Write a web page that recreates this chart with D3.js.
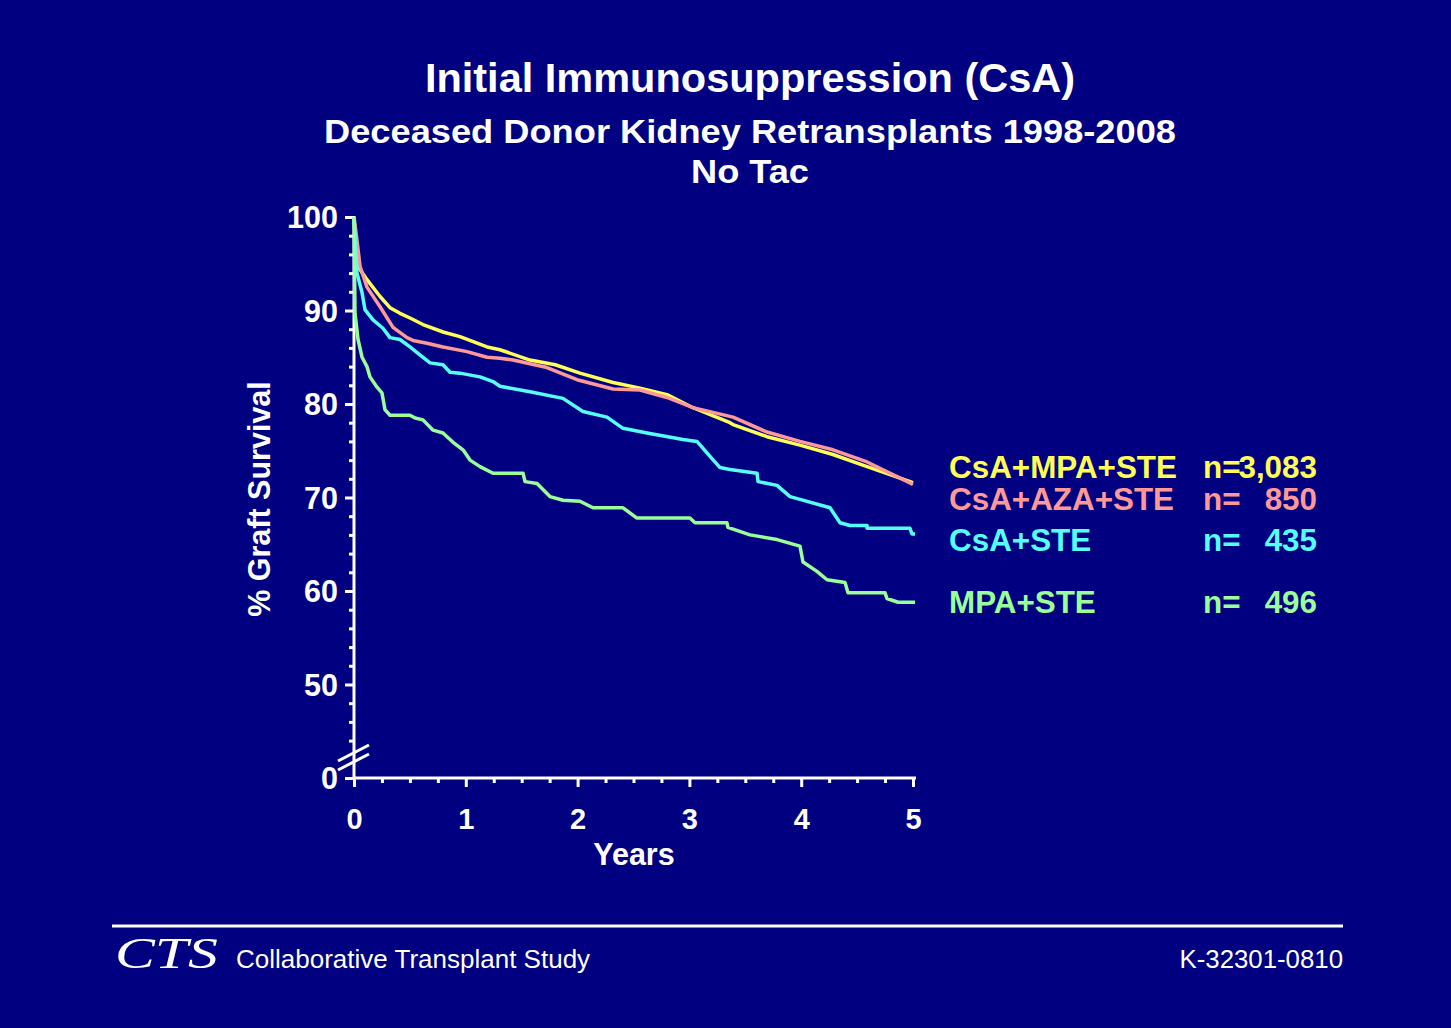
<!DOCTYPE html>
<html><head><meta charset="utf-8">
<script src="https://cdn.jsdelivr.net/npm/d3@7"></script>
<style>html,body{margin:0;padding:0;background:#000080;} svg{display:block;}</style>
</head><body>
<svg id="chart" width="1451" height="1028"></svg>
<script>
// ---------- data ----------
const categories = ["CsA+MPA+STE", "CsA+AZA+STE", "CsA+STE", "MPA+STE"];
const nLabels = ["3,083", "850", "435", "496"];
const colors = ["#ffff55", "#ff9999", "#55ffff", "#99ff99"];

const csaMpaSte = [[0,100],[0.018,96.8],[0.036,94.7],[0.116,93.3],[0.233,91.5],[0.322,90.3],[0.411,89.7],[0.501,89.2],[0.617,88.5],[0.796,87.7],[0.948,87.2],[1.19,86.1],[1.306,85.8],[1.574,84.7],[1.8,84.2],[2.021,83.3],[2.317,82.3],[2.558,81.7],[2.8,81.0],[3.032,79.6],[3.363,78.0],[3.39,77.8],[3.694,76.5],[3.989,75.6],[4.284,74.6],[4.589,73.3],[5.0,71.6]];
const csaAzaSte = [[0,100],[0.027,97.5],[0.054,94.7],[0.116,92.5],[0.233,90.4],[0.349,88.2],[0.474,87.1],[0.528,86.8],[0.653,86.5],[0.796,86.1],[1.011,85.6],[1.19,85.0],[1.306,84.9],[1.422,84.7],[1.726,83.9],[1.995,82.6],[2.317,81.6],[2.558,81.5],[2.8,80.7],[3.032,79.6],[3.211,79.1],[3.39,78.6],[3.694,77.0],[3.989,76.0],[4.284,75.1],[4.589,73.8],[5.0,71.4]];
const csaSte = [[0,100],[0.027,94.0],[0.072,91.9],[0.098,90.1],[0.17,89.0],[0.259,88.1],[0.322,87.1],[0.411,86.9],[0.501,86.1],[0.564,85.5],[0.68,84.4],[0.796,84.2],[0.859,83.4],[0.948,83.3],[1.127,82.9],[1.243,82.4],[1.306,81.9],[1.574,81.3],[1.869,80.6],[2.048,79.2],[2.263,78.6],[2.406,77.4],[2.621,76.9],[2.943,76.2],[3.068,76.0],[3.184,74.4],[3.274,73.2],[3.363,73.0],[3.605,72.6],[3.614,71.7],[3.784,71.3],[3.9,70.1],[3.989,69.8],[4.258,68.9],[4.347,67.3],[4.436,67.0],[4.589,67.0],[4.589,66.7],[4.973,66.7],[4.991,66.1],[5.018,66.1]];
const mpaSte = [[0,100],[0.009,89.7],[0.036,86.9],[0.072,85.0],[0.116,84.0],[0.143,82.9],[0.206,81.8],[0.25,81.2],[0.277,79.4],[0.322,78.8],[0.501,78.8],[0.546,78.5],[0.617,78.3],[0.707,77.2],[0.796,76.9],[0.886,75.9],[0.975,75.1],[1.038,74.0],[1.127,73.3],[1.243,72.6],[1.512,72.6],[1.53,71.7],[1.637,71.5],[1.753,70.1],[1.869,69.7],[2.021,69.6],[2.138,68.9],[2.406,68.9],[2.531,67.8],[3.005,67.8],[3.05,67.3],[3.336,67.3],[3.345,66.8],[3.542,66.0],[3.784,65.5],[3.989,64.8],[4.016,63.1],[4.141,62.1],[4.231,61.2],[4.392,60.9],[4.419,59.8],[4.75,59.8],[4.767,59.2],[4.866,58.8],[5.018,58.8]];
const seriesData = [csaMpaSte, csaAzaSte, csaSte, mpaSte];

const xTickValues = [0, 1, 2, 3, 4, 5];
const xTickLabels = ["0", "1", "2", "3", "4", "5"];
const xMinorTicks = [0.25,0.5,0.75,1.25,1.5,1.75,2.25,2.5,2.75,3.25,3.5,3.75,4.25,4.5,4.75];
const yTickValues = [40, 50, 60, 70, 80, 90, 100];
const yTickLabels = ["0", "50", "60", "70", "80", "90", "100"];
const yMinorTicks = [44,46,48,52,54,56,58,62,64,66,68,72,74,76,78,82,84,86,88,92,94,96,98];

// ---------- drawing ----------
const FONT = "'Liberation Sans', Arial, sans-serif";
const svg = d3.select("#chart");
svg.append("rect").attr("width", 1451).attr("height", 1028).attr("fill", "#000080");

const x = d3.scaleLinear().domain([0, 5]).range([354, 913]);
const y = d3.scaleLinear().domain([40, 100]).range([778, 217]);

function styleAxis(g, fs) {
  g.selectAll(".domain").remove();
  g.selectAll("line").attr("stroke", "#fff").attr("stroke-width", 3);
  g.selectAll("text").attr("fill", "#fff").attr("font-family", FONT)
    .attr("font-weight", "bold").attr("font-size", fs || 29);
}

// x axis
const gxMinor = svg.append("g").attr("transform", `translate(0,${y(40)})`)
  .call(d3.axisBottom(x).tickValues(xMinorTicks).tickSize(5).tickSizeOuter(0).tickFormat(""));
styleAxis(gxMinor);
const gx = svg.append("g").attr("transform", `translate(0,${y(40)})`)
  .call(d3.axisBottom(x).tickValues(xTickValues).tickSize(9).tickSizeOuter(0)
    .tickFormat((d, i) => xTickLabels[i]));
styleAxis(gx, 29);
gx.selectAll("text").attr("y", 51).attr("dy", 0);
svg.append("line").attr("x1", x(0)).attr("x2", x(5) + 3).attr("y1", y(40)).attr("y2", y(40))
  .attr("stroke", "#fff").attr("stroke-width", 3);

// y axis
const gyMinor = svg.append("g").attr("transform", `translate(${x(0)},0)`)
  .call(d3.axisLeft(y).tickValues(yMinorTicks).tickSize(5).tickSizeOuter(0).tickFormat(""));
styleAxis(gyMinor);
const gy = svg.append("g").attr("transform", `translate(${x(0)},0)`)
  .call(d3.axisLeft(y).tickValues(yTickValues).tickSize(9).tickPadding(7).tickSizeOuter(0)
    .tickFormat((d, i) => yTickLabels[i]));
styleAxis(gy, 30.5);
gy.selectAll("text").attr("dy", "0.36em");
svg.append("line").attr("x1", x(0)).attr("x2", x(0)).attr("y1", y(100) - 1).attr("y2", y(40) + 1.5)
  .attr("stroke", "#fff").attr("stroke-width", 3);

// axis break marks
const bx = x(0), by = y(40);
[-17, -8].forEach(o1 => {
  svg.append("line")
    .attr("x1", bx - 16).attr("y1", by + o1)
    .attr("x2", bx + 15).attr("y2", by + o1 - 16)
    .attr("stroke", "#fff").attr("stroke-width", 3);
});

// axis titles
svg.append("text").attr("x", 634).attr("y", 865).attr("text-anchor", "middle")
  .attr("fill", "#fff").attr("font-family", FONT).attr("font-weight", "bold").attr("font-size", 30.5)
  .text("Years");
svg.append("text").attr("transform", "translate(270,499) rotate(-90)").attr("text-anchor", "middle")
  .attr("fill", "#fff").attr("font-family", FONT).attr("font-weight", "bold").attr("font-size", 30.5)
  .text("% Graft Survival");

// curves
const line = d3.line().x(d => x(d[0])).y(d => y(d[1]));
seriesData.forEach((data, i) => {
  svg.append("path").datum(data).attr("d", line)
    .attr("fill", "none").attr("stroke", colors[i]).attr("stroke-width", 3.5)
    .attr("stroke-linejoin", "round");
});

// legend
const legendBaselines = [478, 510, 551, 613];
categories.forEach((c, i) => {
  const g = svg.append("g").attr("fill", colors[i]).attr("font-family", FONT)
    .attr("font-weight", "bold").attr("font-size", 31.4);
  g.append("text").attr("x", 949).attr("y", legendBaselines[i]).text(c);
  g.append("text").attr("x", 1203).attr("y", legendBaselines[i]).text("n=");
  g.append("text").attr("x", 1317).attr("y", legendBaselines[i]).attr("text-anchor", "end").text(nLabels[i]);
});

// titles
svg.append("text").attr("x", 750).attr("y", 92).attr("text-anchor", "middle")
  .attr("fill", "#fff").attr("font-family", FONT).attr("font-weight", "bold").attr("font-size", 41.5)
  .text("Initial Immunosuppression (CsA)");
svg.append("text").attr("x", 750).attr("y", 143).attr("text-anchor", "middle")
  .attr("fill", "#fff").attr("font-family", FONT).attr("font-weight", "bold").attr("font-size", 34)
  .attr("textLength", 852).attr("lengthAdjust", "spacingAndGlyphs")
  .text("Deceased Donor Kidney Retransplants 1998-2008");
svg.append("text").attr("x", 750).attr("y", 183).attr("text-anchor", "middle")
  .attr("fill", "#fff").attr("font-family", FONT).attr("font-weight", "bold").attr("font-size", 34)
  .attr("textLength", 118).attr("lengthAdjust", "spacingAndGlyphs")
  .text("No Tac");

// footer
svg.append("line").attr("x1", 112).attr("x2", 1343).attr("y1", 926).attr("y2", 926)
  .attr("stroke", "#fff").attr("stroke-width", 3);
svg.append("text").attr("x", 115).attr("y", 968)
  .attr("fill", "#fff").attr("font-family", "'Liberation Serif', 'Times New Roman', serif")
  .attr("font-style", "italic").attr("font-size", 45)
  .attr("textLength", 103).attr("lengthAdjust", "spacingAndGlyphs")
  .text("CTS");
svg.append("text").attr("x", 236).attr("y", 968)
  .attr("fill", "#fff").attr("font-family", FONT).attr("font-size", 26)
  .text("Collaborative Transplant Study");
svg.append("text").attr("x", 1343).attr("y", 968).attr("text-anchor", "end")
  .attr("fill", "#fff").attr("font-family", FONT).attr("font-size", 25.8)
  .text("K-32301-0810");
</script>
</body></html>
